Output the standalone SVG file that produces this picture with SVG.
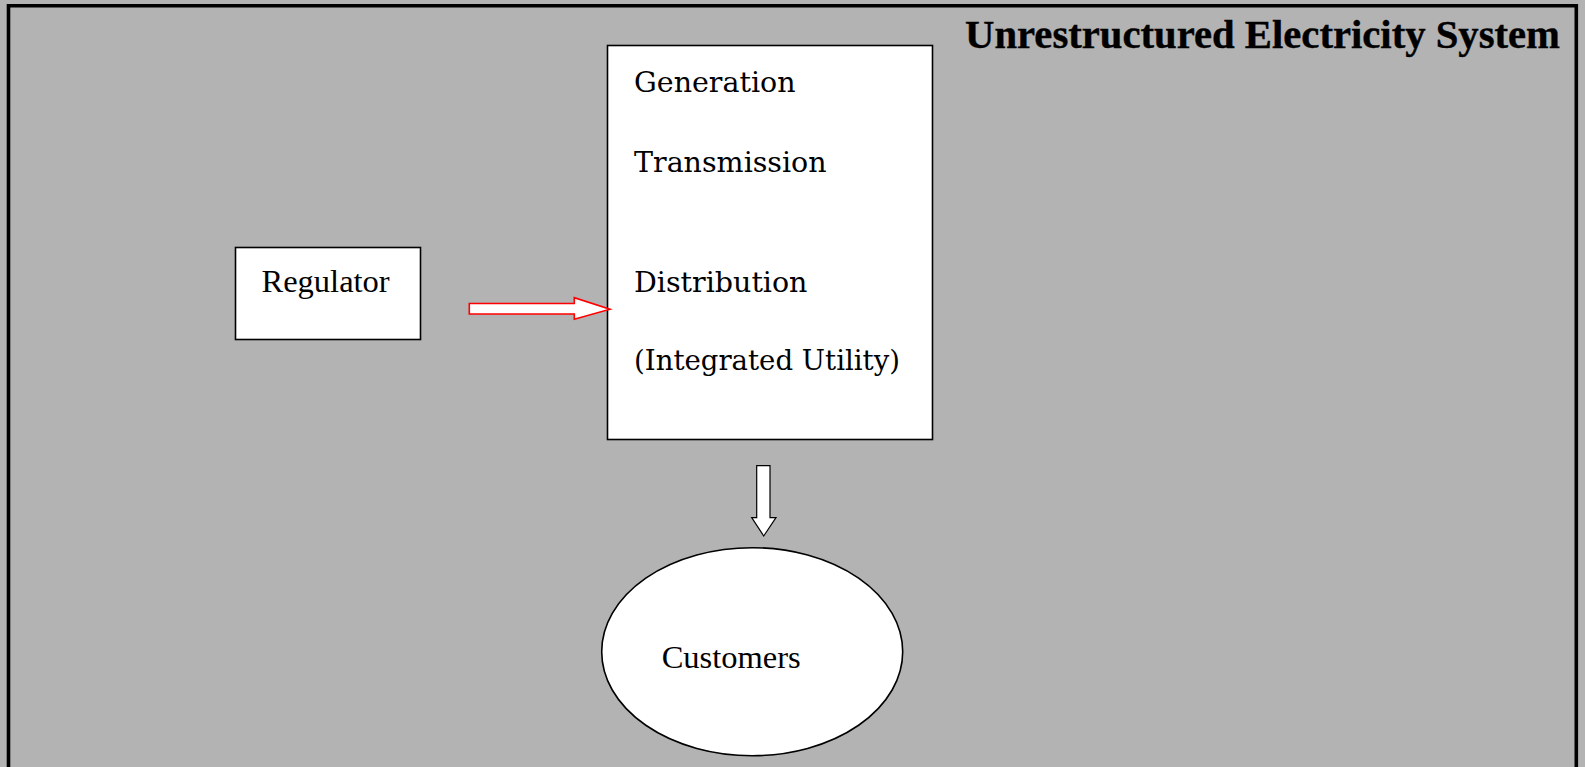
<svg xmlns="http://www.w3.org/2000/svg" width="1585" height="767" viewBox="0 0 1585 767">
  <style>
    .node { fill: #ffffff; stroke: #000000; stroke-width: 1.6; }
    .lbl { font-family: "Liberation Serif", "Times New Roman", serif; font-size: 32.5px; fill: #000000; }
    .util { font-family: "DejaVu Serif", "Liberation Serif", serif; font-size: 28.5px; fill: #000000; }
    .title { font-family: "Liberation Serif", "Times New Roman", serif; font-size: 40px; font-weight: bold; fill: #000000; stroke: #000000; stroke-width: 0.4; }
  </style>
  <rect x="0" y="0" width="1585" height="767" fill="#b3b3b3"/>
  <path d="M8.5,767 V5.8 H1576.3 V767" fill="none" stroke="#000000" stroke-width="3.6"/>
  <text class="title" x="965" y="47.7" textLength="595" lengthAdjust="spacingAndGlyphs">Unrestructured Electricity System</text>

  <g id="regulator">
    <rect class="node" x="235.5" y="247.5" width="185" height="92"/>
    <text class="lbl" x="261.5" y="292.3">Regulator</text>
  </g>

  <g id="utility">
    <rect class="node" x="607.5" y="45.5" width="325" height="394"/>
    <text class="util" x="634" y="91.7">Generation</text>
    <text class="util" x="634" y="171.7">Transmission</text>
    <text class="util" x="634" y="291.7">Distribution</text>
    <text class="util" x="634" y="370" textLength="266" lengthAdjust="spacingAndGlyphs">(Integrated Utility)</text>
  </g>

  <g id="customers">
    <ellipse class="node" cx="752.2" cy="651.7" rx="150.5" ry="104"/>
    <text class="lbl" x="661.7" y="668.3">Customers</text>
  </g>

  <g id="connectors">
    <path d="M469.3,303.5 H574.3 V297.7 L610,309.3 L574.3,319.3 V314 H469.3 Z" fill="#ffffff" stroke="#ff0000" stroke-width="1.6" stroke-linejoin="miter"/>
    <path d="M756.7,465.7 H770 V517.7 H776 L763.7,536 L751.7,517.7 H756.7 Z" fill="#ffffff" stroke="#000000" stroke-width="1.2"/>
  </g>
</svg>
